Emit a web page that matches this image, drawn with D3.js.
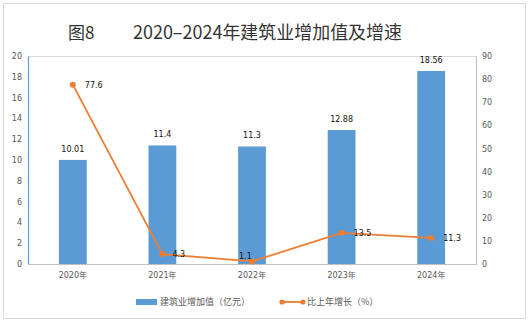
<!DOCTYPE html>
<html><head><meta charset="utf-8">
<script src="https://cdn.jsdelivr.net/npm/d3@7"></script>
<style>body{margin:0;background:#fff}</style>
</head><body>
<script>
const categories = ["2020年","2021年","2022年","2023年","2024年"];
const valueAdded = [10.01, 11.4, 11.3, 12.88, 18.56];
const valueLabels = ["10.01","11.4","11.3","12.88","18.56"];
const growth = [77.6, 4.3, 1.1, 13.5, 11.3];
const leftTicks = [0,2,4,6,8,10,12,14,16,18,20];
const rightTicks = [0,10,20,30,40,50,60,70,80,90];
const titleFig = "图8";
const titleText = "2020–2024年建筑业增加值及增速";
const legendBar = "建筑业增加值（亿元）";
const legendLine = "比上年增长（%）";

(function(){
const W = 531, H = 323;
const svg = d3.select("body").append("svg").attr("width", W).attr("height", H)
  .style("font-family", "'DejaVu Sans', sans-serif");

svg.append("rect").attr("x",3.5).attr("y",3.5).attr("width",522).attr("height",315)
  .attr("fill","#fff").attr("stroke","#d9d9d9");

svg.append("text").attr("x", 68).attr("y", 39).attr("font-size", 17)
  .attr("font-family","'Noto Sans CJK SC', sans-serif").attr("fill","#333")
  .text(titleFig);
svg.append("text").attr("x", 133).attr("y", 39).attr("font-size", 18)
  .attr("font-family","'Noto Sans CJK SC', sans-serif").attr("fill","#333")
  .attr("textLength", 269).attr("lengthAdjust","spacingAndGlyphs")
  .text(titleText);

const pL = 28, pR = 476, pT = 56, pB = 264;
const x = d3.scaleBand().domain(categories).range([pL, pR]).paddingInner(0.69).paddingOuter(0.345);
const yL = d3.scaleLinear().domain([0,20]).range([pB, pT]);
const yR = d3.scaleLinear().domain([0,90]).range([pB, pT]);
const cx = d => x(d) + x.bandwidth()/2;

svg.append("rect").attr("x", pL+0.5).attr("y", pT+0.5).attr("width", pR-pL).attr("height", pB-pT)
  .attr("fill","none").attr("stroke","#d9d9d9");

svg.selectAll("rect.bar").data(valueAdded).join("rect").attr("class","bar")
  .attr("x", (d,i) => x(categories[i])).attr("width", x.bandwidth())
  .attr("y", d => yL(d)).attr("height", d => pB - yL(d)).attr("fill","#5b9bd5");

svg.selectAll("text.blab").data(valueAdded).join("text").attr("class","blab")
  .attr("x", (d,i) => cx(categories[i])).attr("y", d => yL(d) - 8)
  .attr("text-anchor","middle").attr("font-size",8).attr("fill","#111")
  .text((d,i) => valueLabels[i]);

const axL = svg.append("g").attr("transform", `translate(${pL},0)`)
  .call(d3.axisLeft(yL).tickValues(leftTicks).tickSize(0).tickPadding(6));
axL.select(".domain").attr("stroke","#5b9bd5").attr("stroke-width",1.2);
axL.selectAll("text").attr("font-size",8).attr("fill","#595959").attr("font-family","'DejaVu Sans', sans-serif");

const axR = svg.append("g").attr("transform", `translate(${pR},0)`)
  .call(d3.axisRight(yR).tickValues(rightTicks).tickSize(0).tickPadding(6));
axR.select(".domain").attr("stroke","#bfbfbf");
axR.selectAll("text").attr("font-size",8).attr("fill","#595959").attr("font-family","'DejaVu Sans', sans-serif");

const axB = svg.append("g").attr("transform", `translate(0,${pB})`)
  .call(d3.axisBottom(x).tickSize(0).tickPadding(8));
axB.select(".domain").attr("stroke","#bfbfbf");
axB.selectAll("text").attr("font-size",8).attr("fill","#595959").attr("font-family","'DejaVu Sans', 'Noto Sans CJK SC', sans-serif");

const line = d3.line().x((d,i) => cx(categories[i])).y(d => yR(d));
svg.append("path").datum(growth).attr("d", line).attr("fill","none")
  .attr("stroke","#ed7d31").attr("stroke-width",1.8);
svg.selectAll("circle.pt").data(growth).join("circle").attr("class","pt")
  .attr("cx",(d,i)=>cx(categories[i])).attr("cy", d=>yR(d)).attr("r",3).attr("fill","#ed7d31");

const labOff = [[12,3],[10,3],[-13,-2],[12,3],[12,3]];
svg.selectAll("text.llab").data(growth).join("text").attr("class","llab")
  .attr("x",(d,i)=>cx(categories[i]) + labOff[i][0]).attr("y",(d,i)=>yR(d)+labOff[i][1])
  .attr("font-size",8).attr("fill","#111").text(d => d);

const ly = 302;
svg.append("rect").attr("x",136).attr("y",ly-3).attr("width",21).attr("height",6).attr("fill","#5b9bd5");
svg.append("text").attr("x",160).attr("y",ly+3).attr("font-size",9).attr("fill","#595959")
  .attr("font-family","'Noto Sans CJK SC', sans-serif").text(legendBar);
svg.append("line").attr("x1",282).attr("x2",303).attr("y1",ly).attr("y2",ly).attr("stroke","#ed7d31").attr("stroke-width",1.8);
svg.selectAll("circle.lg").data([282,303]).join("circle").attr("cx",d=>d).attr("cy",ly).attr("r",2.6).attr("fill","#ed7d31");
svg.append("text").attr("x",307).attr("y",ly+3).attr("font-size",9).attr("fill","#595959")
  .attr("font-family","'Noto Sans CJK SC', sans-serif").text(legendLine);
})();
</script>
</body></html>
